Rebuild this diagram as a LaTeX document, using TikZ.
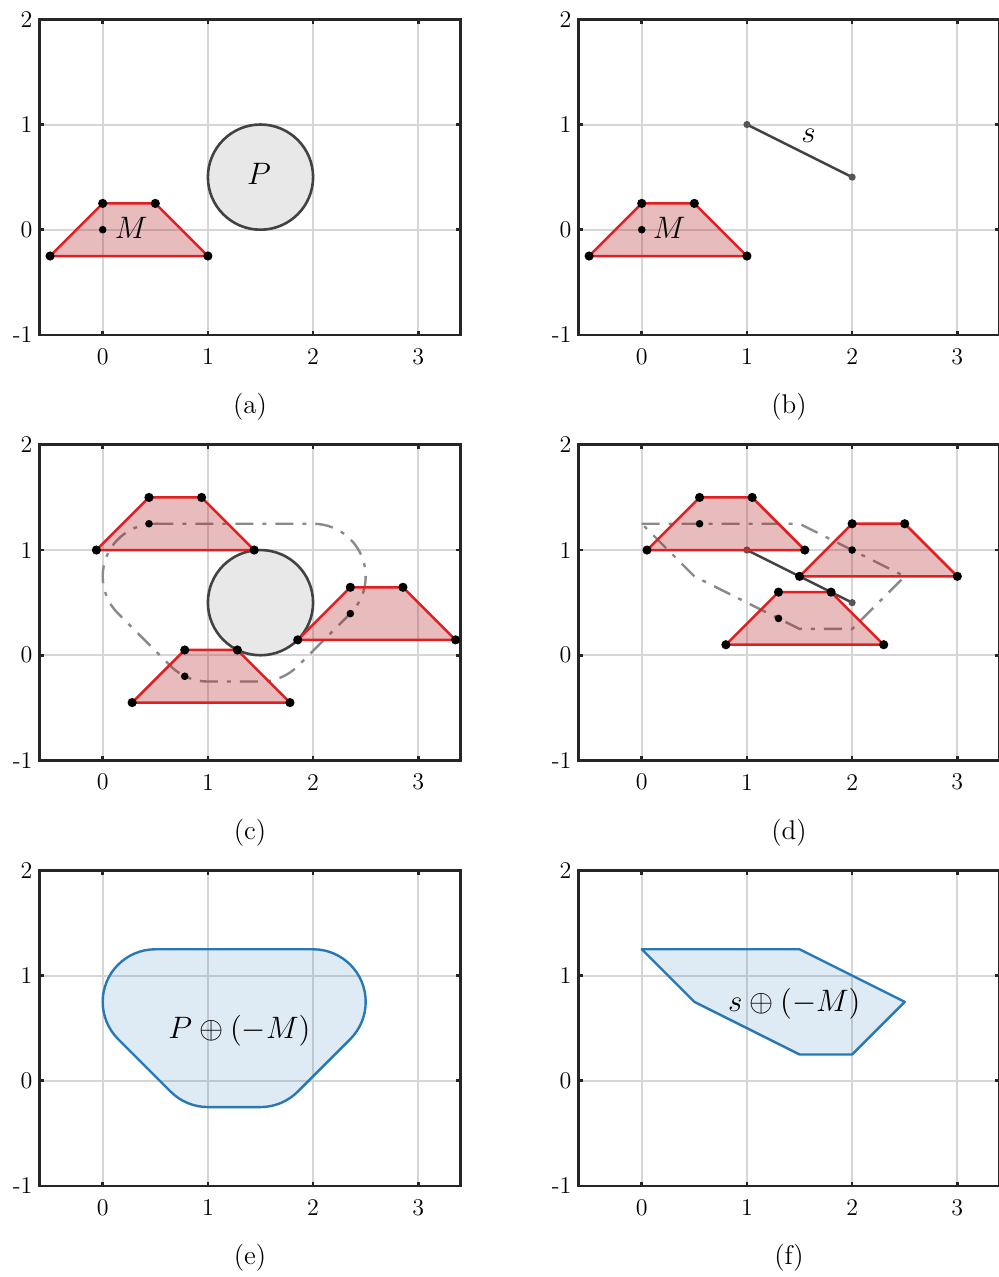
\documentclass[tikz,border=0pt]{standalone}
\usepackage{fix-cm}

\definecolor{robotred}{RGB}{226,30,34}
\definecolor{robotfill}{RGB}{178,30,34}
\definecolor{obstgray}{RGB}{66,66,66}
\definecolor{obstfill}{RGB}{232,232,232}
\definecolor{cspacegray}{RGB}{138,138,138}
\definecolor{cspaceblue}{RGB}{40,120,181}
\definecolor{segdotgray}{RGB}{85,85,85}
\definecolor{framegray}{RGB}{38,38,38}
\definecolor{gridgray}{RGB}{214,214,214}

\tikzset{
  gridline/.style={draw=gridgray, line width=1pt},
  axisframe/.style={draw=framegray, line width=1.35pt},
  ticklabel/.style={font=\fontsize{12}{14}\selectfont, inner sep=0pt},
  caption/.style={font=\fontsize{13.5}{16}\selectfont, inner sep=0pt},
  shapelabel/.style={font=\fontsize{15.5}{18}\selectfont, inner sep=0pt},
  robotshape/.style={draw=robotred, fill=robotfill, fill opacity=0.3, line width=1.25pt, line join=round},
  obstacle/.style={draw=obstgray, fill=obstfill, line width=1.3pt},
  cspaceline/.style={draw=cspacegray, line width=1.2pt, dash pattern=on 9pt off 4.5pt on 2pt off 4.5pt},
  cspacefill/.style={draw=cspaceblue, fill=cspaceblue, fill opacity=0.15, line width=1.2pt, line join=round},
  segline/.style={draw=obstgray, line width=1.2pt},
  vdot/.style={fill=black},
  segdot/.style={fill=segdotgray}
}

\newcommand{\plotaxes}[1]{%
\draw[gridline] (0,-1) -- (0,2) (1,-1) -- (1,2) (2,-1) -- (2,2) (3,-1) -- (3,2) (-0.6,0) -- (3.4,0) (-0.6,1) -- (3.4,1);
\draw[axisframe] (-0.6,-1) rectangle (3.4,2);
\draw[axisframe] (0,-1) -- (0,-0.96) (1,-1) -- (1,-0.96) (2,-1) -- (2,-0.96) (3,-1) -- (3,-0.96);
\draw[axisframe] (0,2) -- (0,1.96) (1,2) -- (1,1.96) (2,2) -- (2,1.96) (3,2) -- (3,1.96);
\draw[axisframe] (-0.6,0) -- (-0.56,0) (-0.6,1) -- (-0.56,1) (3.4,0) -- (3.36,0) (3.4,1) -- (3.36,1);
\node[ticklabel] (#1-x0) at (0,-1.207) {0};
\node[ticklabel] (#1-x1) at (1,-1.207) {1};
\node[ticklabel] (#1-x2) at (2,-1.207) {2};
\node[ticklabel] (#1-x3) at (3,-1.207) {3};
\node[ticklabel, anchor=east] (#1-y2) at (-0.665,2) {2};
\node[ticklabel, anchor=east] (#1-y1) at (-0.665,1) {1};
\node[ticklabel, anchor=east] (#1-y0) at (-0.665,0) {0};
\node[ticklabel, anchor=east] (#1-ym1) at (-0.665,-1) {-1};
\node[caption] (#1-cap) at (1.4,-1.683) {(#1)};
}

\begin{document}
\begin{tikzpicture}[x=52.6pt, y=52.6pt]
\useasboundingbox (-0.9762,-9.9553) rectangle (8.5105,2.1835);

\begin{scope}
\plotaxes{a}
\draw[robotshape] (-0.5,-0.25) -- (0,0.25) -- (0.5,0.25) -- (1,-0.25) -- cycle;
\fill[vdot] (-0.5,-0.25) circle[radius=2.3pt] (0,0.25) circle[radius=2.3pt] (0.5,0.25) circle[radius=2.3pt] (1,-0.25) circle[radius=2.3pt];
\fill[vdot] (0,0) circle[radius=1.9pt];
\node[shapelabel] (a-M) at (0.27,0.02) {$M$};
\draw[obstacle] (1.5,0.5) circle[radius=0.5];
\node[shapelabel] (a-P) at (1.486,0.53) {$P$};
\end{scope}

\begin{scope}[shift={(5.124,0)}]
\plotaxes{b}
\draw[robotshape] (-0.5,-0.25) -- (0,0.25) -- (0.5,0.25) -- (1,-0.25) -- cycle;
\fill[vdot] (-0.5,-0.25) circle[radius=2.3pt] (0,0.25) circle[radius=2.3pt] (0.5,0.25) circle[radius=2.3pt] (1,-0.25) circle[radius=2.3pt];
\fill[vdot] (0,0) circle[radius=1.9pt];
\node[shapelabel] (b-M) at (0.26,0.02) {$M$};
\coordinate (b-s1) at (1,1);
\coordinate (b-s2) at (2,0.5);
\draw[segline] (b-s1) -- (b-s2);
\fill[segdot] (b-s1) circle[radius=1.8pt] (b-s2) circle[radius=1.8pt];
\node[shapelabel] (b-s) at (1.585,0.89) {$s$};
\end{scope}

\begin{scope}[shift={(0,-4.045)}]
\plotaxes{c}
\draw[obstacle] (1.5,0.5) circle[radius=0.5];
\draw[cspaceline] (0.5,1.25) -- (2,1.25) arc[start angle=90, end angle=-45, radius=0.5] -- ++(-0.5,-0.5) arc[start angle=-45, end angle=-90, radius=0.5] -- ++(-0.5,0) arc[start angle=-90, end angle=-135, radius=0.5] -- ++(-0.5,0.5) arc[start angle=225, end angle=90, radius=0.5] -- cycle;
\draw[robotshape] (-0.06,1) -- (0.44,1.5) -- (0.94,1.5) -- (1.44,1) -- cycle;
\fill[vdot] (-0.06,1) circle[radius=2.3pt] (0.44,1.5) circle[radius=2.3pt] (0.94,1.5) circle[radius=2.3pt] (1.44,1) circle[radius=2.3pt];
\fill[vdot] (0.44,1.25) circle[radius=1.9pt];
\draw[robotshape] (1.854,0.146) -- (2.354,0.646) -- (2.854,0.646) -- (3.354,0.146) -- cycle;
\fill[vdot] (1.854,0.146) circle[radius=2.3pt] (2.354,0.646) circle[radius=2.3pt] (2.854,0.646) circle[radius=2.3pt] (3.354,0.146) circle[radius=2.3pt];
\fill[vdot] (2.354,0.396) circle[radius=1.9pt];
\draw[robotshape] (0.28,-0.45) -- (0.78,0.05) -- (1.28,0.05) -- (1.78,-0.45) -- cycle;
\fill[vdot] (0.28,-0.45) circle[radius=2.3pt] (0.78,0.05) circle[radius=2.3pt] (1.28,0.05) circle[radius=2.3pt] (1.78,-0.45) circle[radius=2.3pt];
\fill[vdot] (0.78,-0.2) circle[radius=1.9pt];
\end{scope}

\begin{scope}[shift={(5.124,-4.045)}]
\plotaxes{d}
\draw[cspaceline] (0,1.25) -- (1.5,1.25) -- (2.5,0.75) -- (2,0.25) -- (1.5,0.25) -- (0.5,0.75) -- cycle;
\coordinate (d-s1) at (1,1);
\coordinate (d-s2) at (2,0.5);
\draw[segline] (d-s1) -- (d-s2);
\fill[segdot] (d-s1) circle[radius=1.8pt] (d-s2) circle[radius=1.8pt];
\draw[robotshape] (0.05,1) -- (0.55,1.5) -- (1.05,1.5) -- (1.55,1) -- cycle;
\fill[vdot] (0.05,1) circle[radius=2.3pt] (0.55,1.5) circle[radius=2.3pt] (1.05,1.5) circle[radius=2.3pt] (1.55,1) circle[radius=2.3pt];
\fill[vdot] (0.55,1.25) circle[radius=1.9pt];
\draw[robotshape] (1.5,0.75) -- (2,1.25) -- (2.5,1.25) -- (3,0.75) -- cycle;
\fill[vdot] (1.5,0.75) circle[radius=2.3pt] (2,1.25) circle[radius=2.3pt] (2.5,1.25) circle[radius=2.3pt] (3,0.75) circle[radius=2.3pt];
\fill[vdot] (2,1) circle[radius=1.9pt];
\draw[robotshape] (0.8,0.1) -- (1.3,0.6) -- (1.8,0.6) -- (2.3,0.1) -- cycle;
\fill[vdot] (0.8,0.1) circle[radius=2.3pt] (1.3,0.6) circle[radius=2.3pt] (1.8,0.6) circle[radius=2.3pt] (2.3,0.1) circle[radius=2.3pt];
\fill[vdot] (1.3,0.35) circle[radius=1.9pt];
\end{scope}

\begin{scope}[shift={(0,-8.09)}]
\plotaxes{e}
\draw[cspacefill] (0.5,1.25) -- (2,1.25) arc[start angle=90, end angle=-45, radius=0.5] -- ++(-0.5,-0.5) arc[start angle=-45, end angle=-90, radius=0.5] -- ++(-0.5,0) arc[start angle=-90, end angle=-135, radius=0.5] -- ++(-0.5,0.5) arc[start angle=225, end angle=90, radius=0.5] -- cycle;
\node[shapelabel] (e-label) at (1.3,0.48) {$P\oplus(-M)$};
\end{scope}

\begin{scope}[shift={(5.124,-8.09)}]
\plotaxes{f}
\draw[cspacefill] (0,1.25) -- (1.5,1.25) -- (2.5,0.75) -- (2,0.25) -- (1.5,0.25) -- (0.5,0.75) -- cycle;
\node[shapelabel] (f-label) at (1.45,0.735) {$s\oplus(-M)$};
\end{scope}
\end{tikzpicture}
\end{document}
